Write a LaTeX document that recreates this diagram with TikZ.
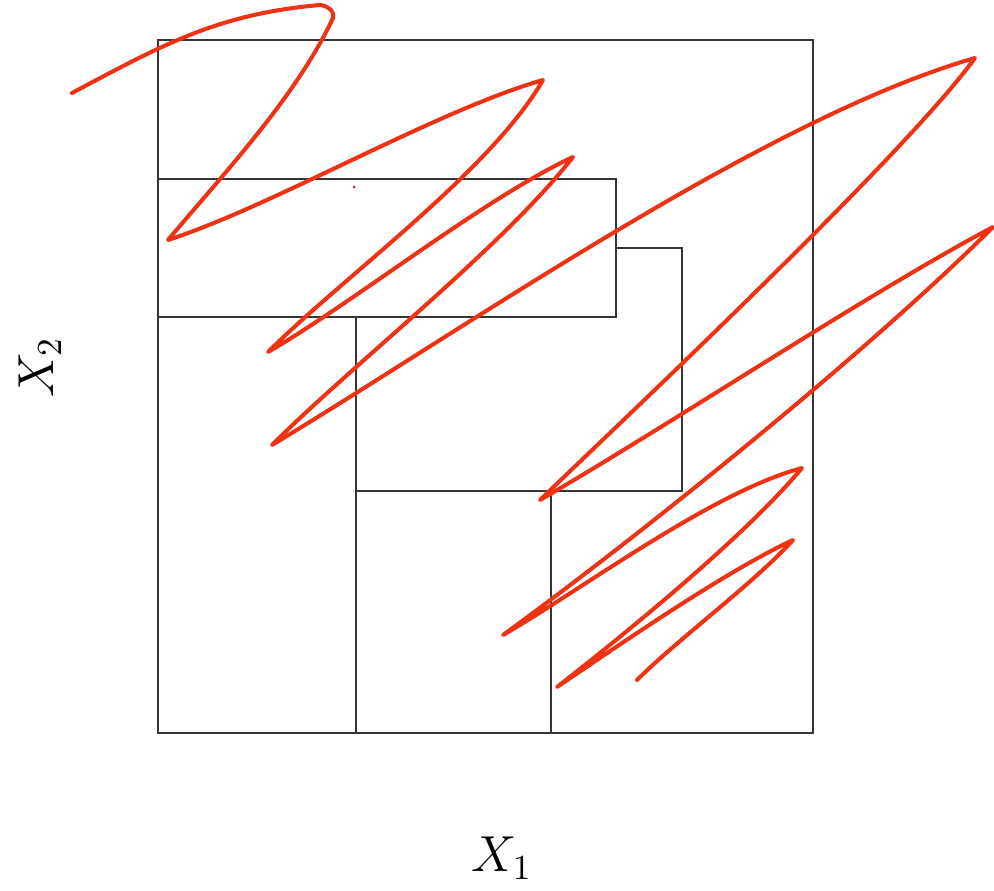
\documentclass[tikz,border=0pt]{standalone}
\usepackage{xcolor}
\usepackage{tikz}
\usetikzlibrary{positioning}
\definecolor{curvered}{RGB}{240,50,20}
\definecolor{boxgray}{RGB}{55,55,55}

\begin{document}
\begin{tikzpicture}[x=0.01cm, y=0.01cm,
  every node/.style={font=\fontsize{14.5}{17}\selectfont},
  cell/.style={draw=boxgray, line width=0.5pt},
  path/.style={draw=curvered, line width=1.15pt, line cap=round, line join=round}]
  \useasboundingbox (0,0) rectangle (994,-891);
  % Partition of the unit square
  \draw[cell] (158,-40) rectangle (813,-733);
  \draw[cell] (158,-179) rectangle (616,-317);
  \draw[cell] (356,-317) -- (356,-733);
  \draw[cell] (616,-248) -- (682,-248) -- (682,-491) -- (356,-491);
  \draw[cell] (551,-491) -- (551,-733);
  % Trajectory
  \draw[path, looseness=0.7] (72,-93)
    to[out=28, in=185, looseness=1] (320,-5)
    to[out=-5, in=75, looseness=1] (333,-18)
    to[out=245, in=50, looseness=0.8] (168,-240)
    to[out=18, in=196] (543,-80)
    to[out=240, in=45] (268,-352)
    to[out=30, in=205] (573,-157)
    to[out=232, in=45] (272,-445)
    to[out=31, in=196] (975,-58)
    to[out=234, in=44, looseness=0.5] (540,-500)
    to[out=30, in=208] (993,-227)
    to[out=225, in=36] (503,-635)
    to[out=30, in=195] (802,-468)
    to[out=230, in=38] (557,-687)
    to[out=34, in=205] (793,-540)
    to[out=228, in=45] (637,-680);
  \fill[curvered!60!violet] (354,-187) circle[radius=1.5];
  % Axis labels
  \node (xone) at (502,-858) {$X_1$};
  \node[rotate=90] (xtwo) at (40,-367) {$X_2$};
\end{tikzpicture}
\end{document}
